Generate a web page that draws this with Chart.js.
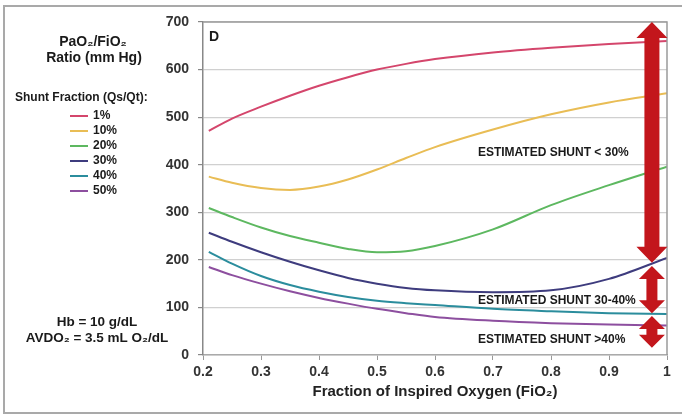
<!DOCTYPE html>
<html>
<head>
<meta charset="utf-8">
<script src="https://cdn.jsdelivr.net/npm/chart.js@4/dist/chart.umd.min.js"></script>
<style>
  html, body { margin: 0; padding: 0; background: #fff; }
  #wrap { position: relative; width: 682px; height: 415px; }
</style>
</head>
<body>
<div id="wrap"><canvas id="shuntChart" width="682" height="415"></canvas></div>
<script>
// FiO2 sample points (x) and PaO2/FiO2 ratio for each shunt fraction
const fio2 = [0.21, 0.25, 0.3, 0.35, 0.4, 0.45, 0.5, 0.55, 0.6, 0.7, 0.8, 0.9, 1.0];
const shunt1  = [471, 497, 522, 545, 566, 584, 600, 612, 622, 636, 646, 654, 660];
const shunt10 = [375, 362, 351, 347, 354, 369, 390, 414, 437, 474, 506, 531, 550];
const shunt20 = [309, 290, 268, 250, 236, 223, 216, 218, 229, 264, 315, 357, 396];
const shunt30 = [257, 238, 216, 196, 178, 162, 150, 141, 136, 132, 136, 160, 204];
const shunt40 = [217, 192, 166, 147, 133, 122, 114, 109, 105, 97, 92, 88, 86];
const shunt50 = [185, 168, 150, 134, 120, 108, 97, 88, 80, 72, 67, 64, 62];

const seriesLabels = ['1%', '10%', '20%', '30%', '40%', '50%'];
const seriesValues = [shunt1, shunt10, shunt20, shunt30, shunt40, shunt50];
const seriesColors = ['#d4466c', '#e9bd55', '#5db860', '#3e3c7e', '#2b8d9d', '#8d4f9f'];

// shunt-range arrows (ratio from -> to) and their captions
const arrowRanges = [[700, 194], [187, 88], [82, 15]];
const arrowTexts = ['ESTIMATED SHUNT < 30%', 'ESTIMATED SHUNT 30-40%', 'ESTIMATED SHUNT >40%'];

const xTitle = 'Fraction of Inspired Oxygen (FiO₂)';
const yTitleLines = ['PaO₂/FiO₂', 'Ratio (mm Hg)'];
const legendTitle = 'Shunt Fraction (Qs/Qt):';
const noteLines = ['Hb = 10 g/dL', 'AVDO₂ = 3.5 mL O₂/dL'];
const panelLetter = 'D';

// where the annotations sit (data units) and how they look
const annot = {
    arrowX: 0.974,
    labelX: 0.674,
    labelY: [425, 114, 32],
    arrowColor: '#c3161c',
    arrowSizes: [{ shaft: 15, headW: 31, headL: 16 }, { shaft: 11, headW: 26, headL: 13 }, { shaft: 11, headW: 26, headL: 13 }]
};

const FONT = '"Liberation Sans", Arial, sans-serif';

function drawArrow(ctx, x, yTop, yBot, s) {
    const hs = s.shaft / 2, hw = s.headW / 2;
    ctx.beginPath();
    ctx.moveTo(x, yTop);
    ctx.lineTo(x + hw, yTop + s.headL);
    ctx.lineTo(x + hs, yTop + s.headL);
    ctx.lineTo(x + hs, yBot - s.headL);
    ctx.lineTo(x + hw, yBot - s.headL);
    ctx.lineTo(x, yBot);
    ctx.lineTo(x - hw, yBot - s.headL);
    ctx.lineTo(x - hs, yBot - s.headL);
    ctx.lineTo(x - hs, yTop + s.headL);
    ctx.lineTo(x - hw, yTop + s.headL);
    ctx.closePath();
    ctx.fill();
}

const decorPlugin = {
    id: 'decor',
    beforeDraw(chart) {
        const ctx = chart.ctx;
        ctx.save();
        ctx.fillStyle = '#fff';
        ctx.fillRect(0, 0, chart.width, chart.height);
        // outer picture frame
        ctx.strokeStyle = '#a9a9a9';
        ctx.lineWidth = 2;
        ctx.strokeRect(4, 6, 690, 407);
        ctx.restore();
    },
    afterDatasetsDraw(chart) {
        const { ctx, chartArea: ca, scales: { x, y } } = chart;
        ctx.save();
        // plot frame top / right
        ctx.strokeStyle = '#9a9a9a';
        ctx.lineWidth = 1.5;
        ctx.beginPath();
        ctx.moveTo(ca.left, ca.top);
        ctx.lineTo(ca.right, ca.top);
        ctx.lineTo(ca.right, ca.bottom);
        ctx.stroke();

        // arrows
        ctx.fillStyle = annot.arrowColor;
        const ax = x.getPixelForValue(annot.arrowX);
        arrowRanges.forEach((r, i) => {
            drawArrow(ctx, ax, y.getPixelForValue(r[0]), y.getPixelForValue(r[1]), annot.arrowSizes[i]);
        });

        // arrow captions
        ctx.fillStyle = '#1a1a1a';
        ctx.font = 'bold 12px ' + FONT;
        ctx.textAlign = 'left';
        ctx.textBaseline = 'middle';
        arrowTexts.forEach((t, i) => {
            ctx.fillText(t, x.getPixelForValue(annot.labelX), y.getPixelForValue(annot.labelY[i]));
        });

        // panel letter
        ctx.font = 'bold 14px ' + FONT;
        ctx.fillText(panelLetter, ca.left + 6, ca.top + 15);

        // left panel: y title, legend, notes
        ctx.textAlign = 'center';
        ctx.font = 'bold 14px ' + FONT;
        ctx.fillText(yTitleLines[0], 93, 42);
        ctx.fillText(yTitleLines[1], 94, 58);
        ctx.font = 'bold 12px ' + FONT;
        ctx.textAlign = 'left';
        ctx.fillText(legendTitle, 15, 98);
        seriesLabels.forEach((lab, i) => {
            const ly = 116 + i * 15;
            ctx.strokeStyle = seriesColors[i];
            ctx.lineWidth = 2;
            ctx.beginPath();
            ctx.moveTo(70, ly);
            ctx.lineTo(88, ly);
            ctx.stroke();
            ctx.fillText(lab, 93, ly);
        });
        ctx.textAlign = 'center';
        ctx.font = 'bold 13.5px ' + FONT;
        ctx.fillText(noteLines[0], 97, 322);
        ctx.fillText(noteLines[1], 97, 338);
        ctx.restore();
    }
};

const datasets = seriesLabels.map((lab, i) => ({
    label: lab,
    data: fio2.map((fx, k) => ({ x: fx, y: seriesValues[i][k] })),
    borderColor: seriesColors[i],
    backgroundColor: seriesColors[i],
    borderWidth: 2,
    pointRadius: 0,
    cubicInterpolationMode: 'monotone',
    fill: false
}));

new Chart(document.getElementById('shuntChart').getContext('2d'), {
    type: 'line',
    data: { datasets: datasets },
    options: {
        responsive: false,
        animation: false,
        devicePixelRatio: 1,
        layout: { padding: { left: 0, top: 22, right: 15, bottom: 0 } },
        plugins: { legend: { display: false }, tooltip: { enabled: false } },
        scales: {
            x: {
                type: 'linear',
                min: 0.2,
                max: 1,
                afterFit: s => { s.height = 60; },
                ticks: {
                    stepSize: 0.1,
                    autoSkip: false,
                    padding: 4,
                    color: '#333',
                    font: { family: FONT, size: 14, weight: 'bold' },
                    callback: v => Math.abs(v - 1) < 1e-9 ? '1' : Number(v).toFixed(1)
                },
                grid: { drawOnChartArea: false, drawTicks: true, tickLength: 5, color: '#999' },
                border: { color: '#aaa', width: 1.5 },
                title: {
                    display: true,
                    text: xTitle,
                    color: '#222',
                    font: { family: FONT, size: 15, weight: 'bold' },
                    padding: { top: 2, bottom: 14 }
                }
            },
            y: {
                min: 0,
                max: 700,
                afterFit: s => { s.width = 203; },
                ticks: {
                    stepSize: 100,
                    padding: 9,
                    color: '#333',
                    font: { family: FONT, size: 14, weight: 'bold' }
                },
                grid: { color: '#d0d0d0', tickColor: '#888', tickLength: 5, lineWidth: 1.2 },
                border: { color: '#888', width: 1.5 }
            }
        }
    },
    plugins: [decorPlugin]
});
</script>
</body>
</html>
